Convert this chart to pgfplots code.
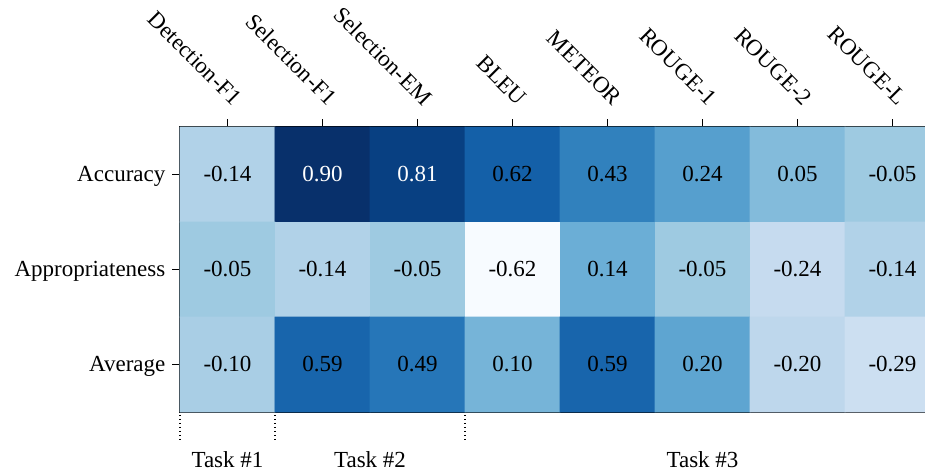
\documentclass[border=0pt]{standalone}
\usepackage{pgfplots}
\pgfplotsset{compat=1.18}
\usepackage{pgfplotstable}
\usepackage{fontspec}
\setmainfont{Liberation Serif}

% correlation of each automatic metric with the human ratings
% x: metric index, y: rating row, c: coefficient, w: 1 = value printed in white
\pgfplotstableread{
x y c w
0 0 -0.14 0
1 0 0.90 1
2 0 0.81 1
3 0 0.62 0
4 0 0.43 0
5 0 0.24 0
6 0 0.05 0
7 0 -0.05 0
0 1 -0.05 0
1 1 -0.14 0
2 1 -0.05 0
3 1 -0.62 0
4 1 0.14 0
5 1 -0.05 0
6 1 -0.24 0
7 1 -0.14 0
0 2 -0.10 0
1 2 0.59 0
2 2 0.49 0
3 2 0.10 0
4 2 0.59 0
5 2 0.20 0
6 2 -0.20 0
7 2 -0.29 0
}\scores

\pgfplotsset{
  cellvalue/.style={only marks, mark=none,
    point meta=explicit,
    nodes near coords={\pgfmathprintnumber[fixed, fixed zerofill, precision=2, assume math mode=true]{\pgfplotspointmeta}},
    nodes near coords align=center,
    every node near coord/.append style={font=\fontsize{11.5}{13.8}\selectfont, anchor=center, text=#1}},
}

\begin{document}
\begin{tikzpicture}
\begin{axis}[
  scale only axis,
  width=380pt, height=142.5pt,
  xmin=-0.5, xmax=7.5, ymin=-0.5, ymax=2.5,
  y dir=reverse,
  clip=false,
  axis line style={black, line width=0.6pt},
  tick style={black, line width=0.6pt},
  major tick length=3.8pt,
  tick align=outside,
  xtick pos=right, xticklabel pos=right,
  ytick pos=left,
  xtick={0,...,7},
  xticklabels={Detection-F1,Selection-F1,Selection-EM,BLEU,METEOR,ROUGE-1,ROUGE-2,ROUGE-L},
  ytick={0,1,2},
  yticklabels={Accuracy,Appropriateness,Average},
  ticklabel style={font=\fontsize{11.5}{13.8}\selectfont},
  yticklabel style={yshift=-0.8pt},
  xticklabel style={xshift=2.5pt, yshift=6pt, rotate=-45, anchor=south east, inner sep=0pt},
  colormap={blues}{rgb255=(247,251,255) rgb255=(222,235,247) rgb255=(198,219,239)
    rgb255=(158,202,225) rgb255=(107,174,214) rgb255=(66,146,198)
    rgb255=(33,113,181) rgb255=(8,81,156) rgb255=(8,48,107)},
  point meta min=-0.62, point meta max=0.90,
]
\addplot[matrix plot*, mesh/cols=8, point meta=explicit]
  table[x=x, y=y, meta=c] {\scores};

\addplot[cellvalue=black, y filter/.expression={\thisrow{w}>0.5 ? nan : y}]
  table[x=x, y=y, meta=c] {\scores};
\addplot[cellvalue=white, y filter/.expression={\thisrow{w}<0.5 ? nan : y}]
  table[x=x, y=y, meta=c] {\scores};

% task groups below the grid
\draw[black, line width=0.7pt, dash pattern=on 0.7pt off 1.3pt]
  (axis cs:-0.5,2.53) -- (axis cs:-0.5,2.79)
  (axis cs:0.5,2.53) -- (axis cs:0.5,2.79)
  (axis cs:2.5,2.53) -- (axis cs:2.5,2.79);
\node[font=\fontsize{11.5}{13.8}\selectfont] at (axis cs:0,3.0) {Task \#1};
\node[font=\fontsize{11.5}{13.8}\selectfont] at (axis cs:1.5,3.0) {Task \#2};
\node[font=\fontsize{11.5}{13.8}\selectfont] at (axis cs:5,3.0) {Task \#3};

\coordinate (bbsw) at (axis cs:-2.3947,3.1211);
\coordinate (bbne) at (axis cs:7.3421,-1.8368);
\end{axis}
\pgfresetboundingbox
\path[use as bounding box] (bbsw) rectangle (bbne);
\end{tikzpicture}
\end{document}
